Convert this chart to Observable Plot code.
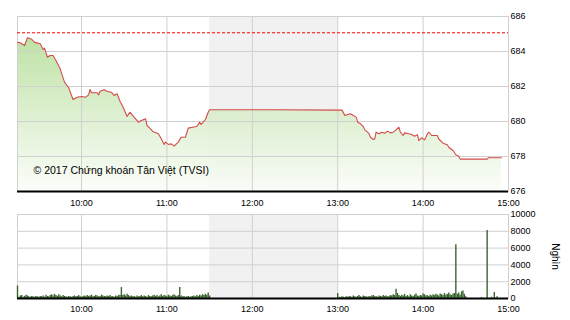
<!DOCTYPE html>
<html><head><meta charset="utf-8">
<script src="https://cdn.jsdelivr.net/npm/d3@7"></script>
<script src="https://cdn.jsdelivr.net/npm/@observablehq/plot@0.6"></script>
<style>
body{margin:0;background:#fff;}
#chart{width:570px;height:320px;overflow:hidden;}
#chart svg{display:block;}
</style></head><body><div id="chart"></div>
<script>
const priceTimes = ["09:15","09:16","09:18","09:20","09:22","09:25","09:27","09:31","09:33","09:34","09:36","09:38","09:40","09:42","09:45","09:48","09:51","09:54","09:57","10:00","10:03","10:05","10:06","10:07","10:11","10:12","10:13","10:16","10:18","10:21","10:23","10:25","10:27","10:29","10:32","10:34","10:36","10:40","10:42","10:45","10:46","10:48","10:50","10:54","10:56","10:58","10:59","11:01","11:03","11:05","11:08","11:10","11:13","11:15","11:18","11:21","11:23","11:24","11:27","11:29","11:30","12:15","13:00","13:03","13:05","13:07","13:09","13:11","13:13","13:14","13:16","13:18","13:19","13:21","13:22","13:23","13:25","13:26","13:27","13:29","13:31","13:33","13:35","13:37","13:39","13:41","13:43","13:44","13:46","13:47","13:50","13:52","13:54","13:56","13:57","13:59","14:01","14:02","14:03","14:04","14:06","14:10","14:11","14:14","14:17","14:18","14:21","14:23","14:25","14:26","14:45","14:46","14:55"];
const priceValues = [684.50,684.53,684.44,684.34,684.78,684.70,684.52,684.44,684.11,684.19,683.67,683.77,683.77,683.49,683.01,682.25,681.93,681.26,681.39,681.43,681.39,681.52,681.83,681.64,681.64,681.52,681.73,681.81,681.71,681.67,681.49,681.58,681.16,680.86,680.29,680.53,680.34,679.96,680.06,680.15,679.77,679.62,679.43,679.30,679.01,678.69,678.82,678.69,678.72,678.59,678.82,679.10,679.10,679.62,679.67,679.71,679.96,679.83,680.10,680.53,680.67,680.67,680.65,680.65,680.34,680.40,680.44,680.34,680.25,679.96,679.87,679.71,679.52,679.39,679.30,679.10,678.97,679.00,679.39,679.30,679.39,679.33,679.45,679.35,679.39,679.52,679.67,679.39,679.20,679.35,679.30,679.26,679.16,679.25,678.91,679.07,678.95,679.10,679.30,679.39,679.20,679.20,679.00,678.76,678.67,678.53,678.34,678.10,678.02,677.85,677.85,677.93,677.93];
const refPrice = 685.07;

const volAmStart = "09:15";
const volAm = [1500,150,300,350,150,250,400,300,200,150,250,200,150,250,200,150,250,200,300,150,400,250,200,350,450,300,500,350,250,450,300,200,350,250,200,150,250,200,150,250,300,200,250,350,200,150,250,300,200,350,250,300,400,200,250,350,300,200,250,400,300,250,200,300,250,350,200,250,150,300,250,350,400,1300,350,450,300,500,350,250,300,200,250,150,300,200,250,350,200,300,250,150,350,250,200,300,400,250,350,200,300,450,250,350,300,200,400,300,250,350,450,300,250,350,1300,300,200,250,150,200,250,150,200,250,300,200,350,250,400,300,450,350,500,400,650,300];
const volPmStart = "13:00";
const volPm = [600,150,100,200,150,100,200,150,250,200,150,300,200,150,250,350,200,150,300,250,200,150,250,200,300,350,200,250,150,300,250,200,350,250,300,200,250,350,300,450,350,1100,600,350,250,400,300,500,250,350,200,450,300,250,400,550,300,250,350,300,550,450,300,350,250,400,300,450,350,500,400,300,550,450,350,600,400,500,650,450,350,550,600,6400,500,650,400,800,900,500,200];
const volLateTimes = ["14:41","14:45","14:48","14:50","14:52"];
const volLate = [100,8100,150,700,200];

const xTicks = ["10:00","11:00","12:00","13:00","14:00","15:00"];
const priceTicks = [676,678,680,682,684,686];
const volTicks = [0,2000,4000,6000,8000,10000];
const breakStart = "11:30", breakEnd = "13:00";
const dayStart = "09:15", dayEnd = "15:00";
const copyright = "© 2017 Chứng khoán Tân Việt (TVSI)";
const volLabel = "Nghìn";

const T = s => { const [h, m] = s.split(":").map(Number); return new Date(Date.UTC(2017, 0, 3, h, m)); };
const addMin = (s, k) => new Date(T(s).getTime() + k * 60000);
const price = priceTimes.map((t, i) => ({t: T(t), v: priceValues[i]}));
const vol = [
  ...volAm.map((v, i) => ({t: addMin(volAmStart, i), v})),
  ...volPm.map((v, i) => ({t: addMin(volPmStart, i), v})),
  ...volLate.map((v, i) => ({t: T(volLateTimes[i]), v}))
];
const xDomain = [T(dayStart), T(dayEnd)];
const xTickDates = xTicks.map(T);
const band = [{a: T(breakStart), b: T(breakEnd)}];
const font = "'Liberation Sans', Arial, sans-serif";
const fmt = d3.utcFormat("%H:%M");
const gridColor = "#d0d0d0";

const gradient = () => {
  const defs = d3.create("svg:defs");
  const g = defs.append("linearGradient").attr("id", "pg").attr("x1", 0).attr("y1", 0).attr("x2", 0).attr("y2", 1);
  g.append("stop").attr("offset", "0%").attr("stop-color", "#b6de9a");
  g.append("stop").attr("offset", "100%").attr("stop-color", "#fbfdf9");
  return defs.node();
};

const topChart = Plot.plot({
  width: 570, height: 207,
  marginLeft: 17, marginRight: 62, marginTop: 16, marginBottom: 16,
  style: {fontFamily: font, fontSize: "9px", color: "#000", background: "transparent", overflow: "visible"},
  x: {type: "utc", domain: xDomain},
  y: {domain: [676, 686]},
  marks: [
    gradient,
    Plot.rect(band, {x1: "a", x2: "b", fill: "#f1f1f1"}),
    Plot.areaY(price, {x: "t", y1: 676, y2: "v", fill: "url(#pg)", fillOpacity: 0.88}),
    Plot.gridX(xTickDates, {stroke: gridColor, strokeOpacity: 1}),
    Plot.gridY(priceTicks, {stroke: gridColor, strokeOpacity: 1}),
    Plot.frame({stroke: gridColor}),
    Plot.ruleY([refPrice], {stroke: "#ff0000", strokeDasharray: "3,2"}),
    Plot.lineY(price, {x: "t", y: "v", stroke: "#d44c4c", strokeWidth: 1.1}),
    Plot.ruleY([676], {stroke: "#000", strokeWidth: 2}),
    Plot.text([copyright], {frameAnchor: "bottom-left", textAnchor: "start", lineAnchor: "middle", dx: 16, dy: -21, fontSize: 10.5, fill: "#000"}),
    Plot.axisX(xTickDates, {anchor: "bottom", tickSize: 0, tickPadding: 8, tickFormat: fmt, label: null}),
    Plot.axisY(priceTicks, {anchor: "right", tickSize: 0, tickPadding: 2, label: null})
  ]
});

const botChart = Plot.plot({
  width: 570, height: 113,
  marginLeft: 17, marginRight: 62, marginTop: 7, marginBottom: 22,
  style: {fontFamily: font, fontSize: "9px", color: "#000", background: "transparent", overflow: "visible"},
  x: {type: "utc", domain: xDomain},
  y: {domain: [0, 10000]},
  marks: [
    Plot.rect(band, {x1: "a", x2: "b", fill: "#f1f1f1"}),
    Plot.gridX(xTickDates, {stroke: gridColor, strokeOpacity: 1}),
    Plot.gridY(volTicks, {stroke: gridColor, strokeOpacity: 1}),
    Plot.frame({stroke: gridColor}),
    Plot.ruleX(vol, {x: "t", y1: 0, y2: "v", stroke: "#3a6630", strokeWidth: 1.4}),
    Plot.ruleY([0], {stroke: "#000", strokeWidth: 2}),
    Plot.axisX(xTickDates, {anchor: "bottom", tickSize: 0, tickPadding: 7, tickFormat: fmt, label: null}),
    Plot.axisY(volTicks, {anchor: "right", tickSize: 0, tickPadding: 2, tickFormat: d => String(d), label: null}),
    Plot.text([volLabel], {frameAnchor: "right", dx: 47, rotate: 90, textAnchor: "middle", lineAnchor: "middle", fontSize: 10, fill: "#000"})
  ]
});

const root = document.getElementById("chart");
root.appendChild(topChart);
root.appendChild(botChart);
</script>
</body></html>
